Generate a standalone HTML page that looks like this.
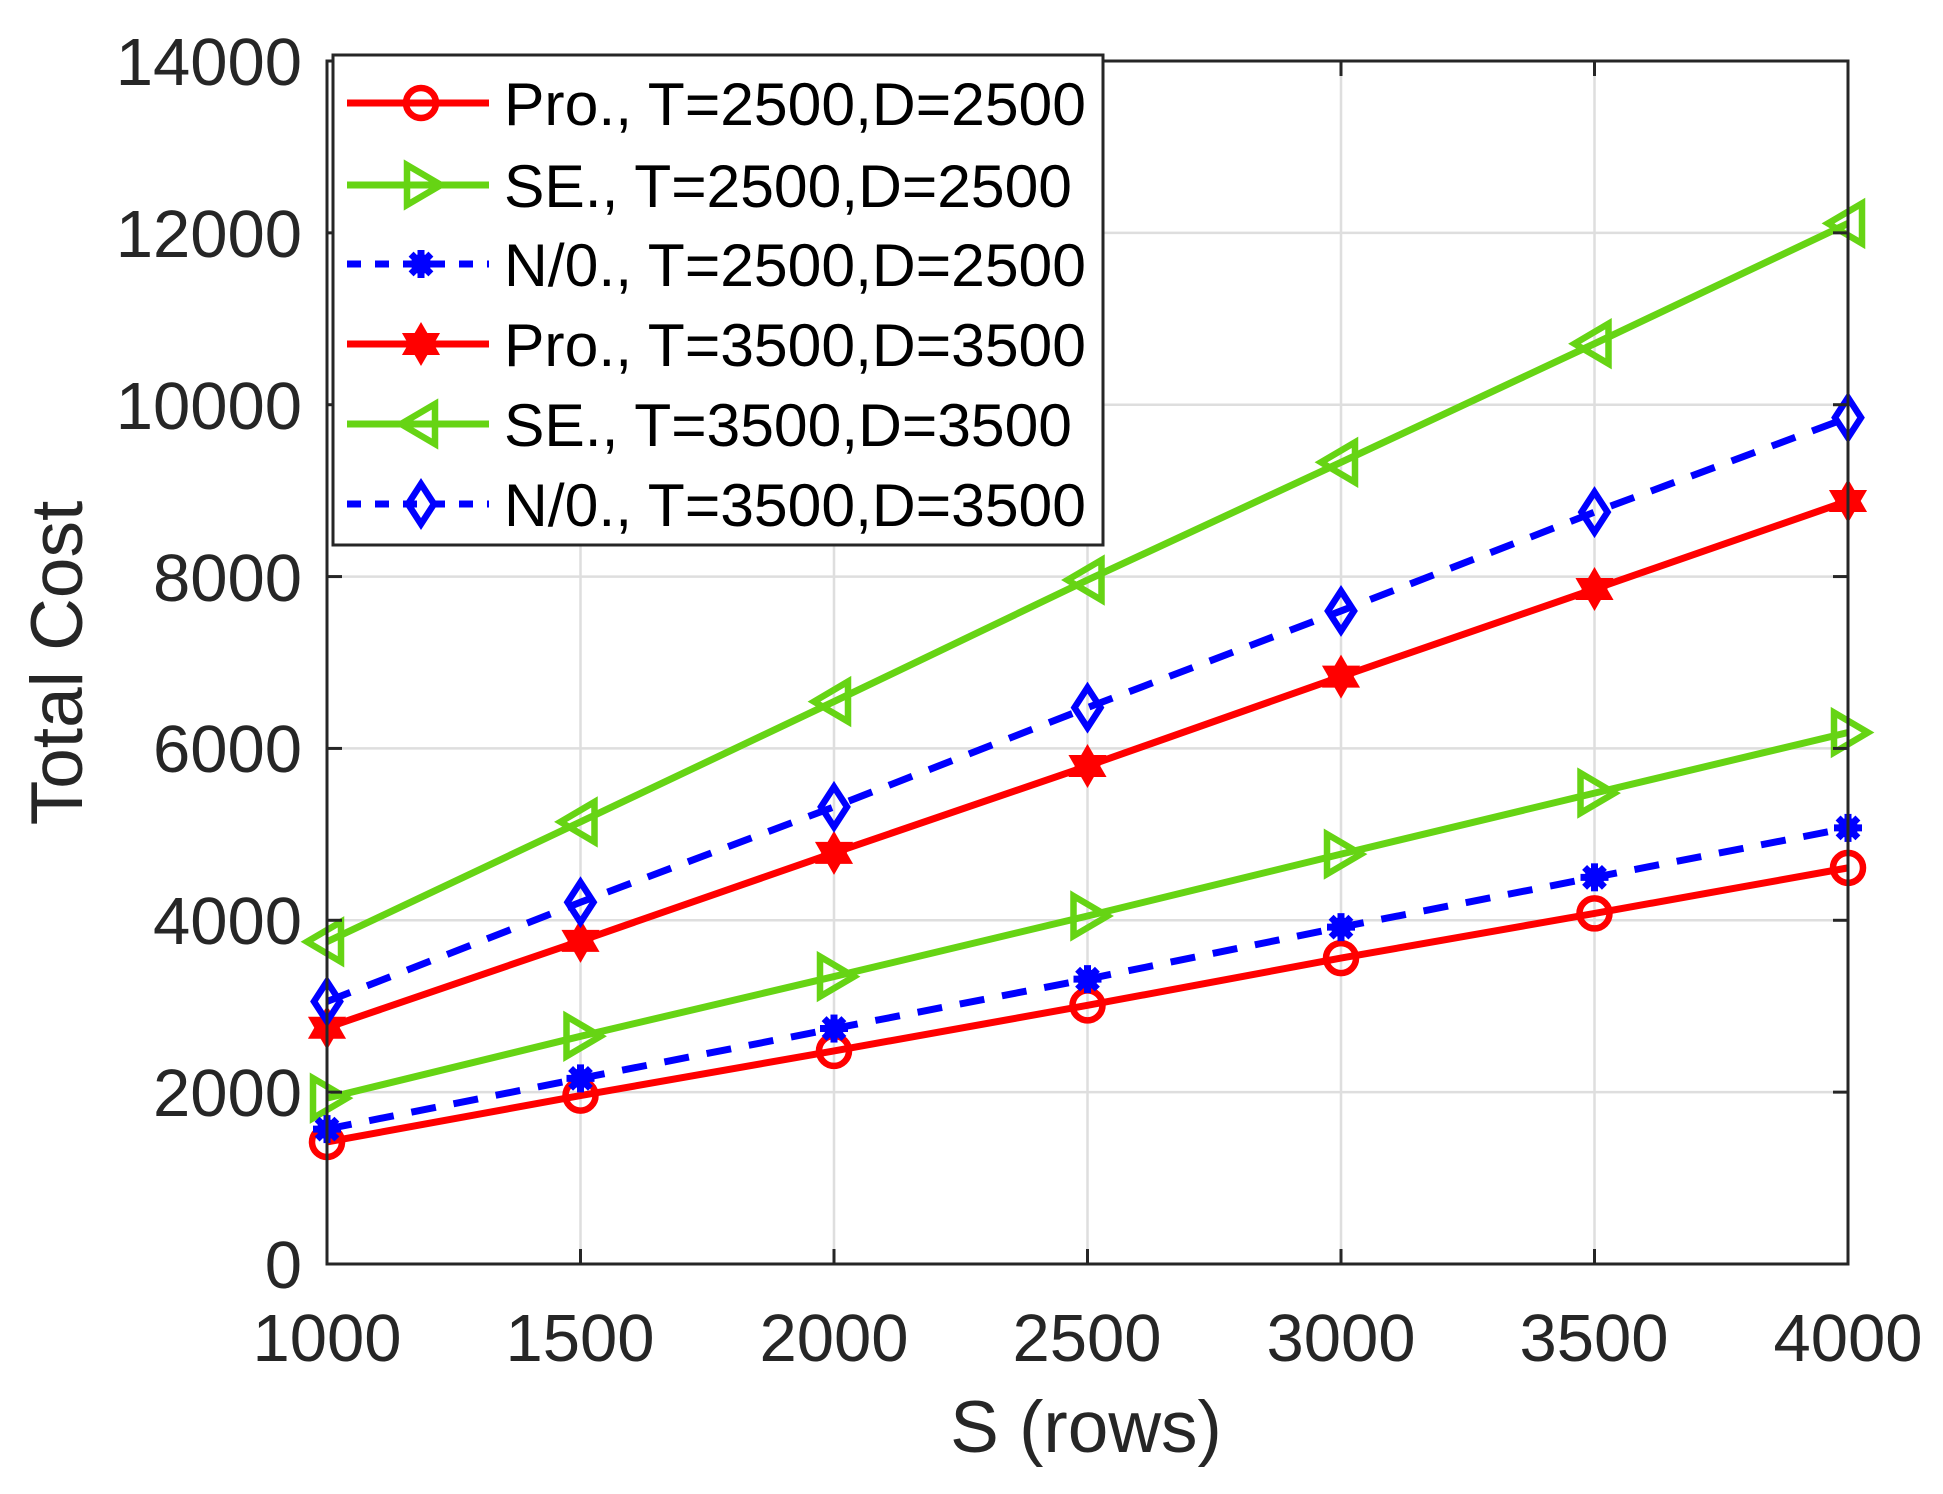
<!DOCTYPE html>
<html><head><meta charset="utf-8"><style>
html,body{margin:0;padding:0;background:#fff;}
svg{display:block;font-family:"Liberation Sans",Arial,sans-serif;}
</style></head><body>
<svg id="s" width="1943" height="1494" viewBox="0 0 1943 1494" xmlns="http://www.w3.org/2000/svg">
<rect width="1943" height="1494" fill="#fff"/>
<g id="grid" stroke="#dedede" stroke-width="2.5"></g>
<g id="series"></g>
<rect x="327" y="61" width="1521" height="1203" fill="none" stroke="#262626" stroke-width="3"/>
<g id="ticks" stroke="#262626" stroke-width="3"></g>
<g font-size="67" fill="#262626" text-anchor="end">
<text x="302" y="1288">0</text>
<text x="302" y="1116">2000</text>
<text x="302" y="944">4000</text>
<text x="302" y="772">6000</text>
<text x="302" y="601">8000</text>
<text x="302" y="429">10000</text>
<text x="302" y="257">12000</text>
<text x="302" y="85">14000</text>
</g>
<g font-size="67" fill="#262626" text-anchor="middle">
<text x="327" y="1361">1000</text>
<text x="580" y="1361">1500</text>
<text x="834" y="1361">2000</text>
<text x="1087" y="1361">2500</text>
<text x="1341" y="1361">3000</text>
<text x="1594" y="1361">3500</text>
<text x="1848" y="1361">4000</text>
</g>
<text x="1086" y="1452" font-size="73" fill="#262626" text-anchor="middle">S (rows)</text>
<text transform="translate(82,663) rotate(-90)" font-size="73" fill="#262626" text-anchor="middle">Total Cost</text>
<rect x="333" y="55" width="770" height="490" fill="#fff" stroke="#262626" stroke-width="3"/>
<g id="leg"></g>
<g font-size="60" fill="#000">
<text x="504" y="125" textLength="582" lengthAdjust="spacingAndGlyphs">Pro., T=2500,D=2500</text>
<text x="504" y="207" textLength="568" lengthAdjust="spacingAndGlyphs">SE., T=2500,D=2500</text>
<text x="504" y="286" textLength="582" lengthAdjust="spacingAndGlyphs">N/0., T=2500,D=2500</text>
<text x="504" y="366" textLength="582" lengthAdjust="spacingAndGlyphs">Pro., T=3500,D=3500</text>
<text x="504" y="446" textLength="568" lengthAdjust="spacingAndGlyphs">SE., T=3500,D=3500</text>
<text x="504" y="526" textLength="582" lengthAdjust="spacingAndGlyphs">N/0., T=3500,D=3500</text>
</g>
</svg>
<script>
var NS="http://www.w3.org/2000/svg";
function el(p,t,a){var e=document.createElementNS(NS,t);for(var k in a)e.setAttribute(k,a[k]);p.appendChild(e);return e;}
function X(v){return 327+(v-1000)*1521/3000;}
function Y(v){return 1264-v*1203/14000;}
var g=document.getElementById('grid'),tk=document.getElementById('ticks');
for(var i=1;i<7;i++){var x=X(1000+500*i);el(g,'line',{x1:x,x2:x,y1:61,y2:1264});el(tk,'line',{x1:x,x2:x,y1:1264,y2:1249});el(tk,'line',{x1:x,x2:x,y1:61,y2:76});}
for(var i=1;i<7;i++){var y=Y(2000*i);el(g,'line',{x1:327,x2:1848,y1:y,y2:y});el(tk,'line',{x1:327,x2:342,y1:y,y2:y});el(tk,'line',{x1:1848,x2:1833,y1:y,y2:y});}
var R='#ff0000',G='#66d414',B='#0000ff';
var S=[
{c:R,m:'o',d:0,v:[1420,1960,2480,3010,3560,4080,4610]},
{c:G,m:'>',d:0,v:[1930,2650,3345,4050,4770,5480,6185]},
{c:B,m:'*',d:1,v:[1570,2160,2740,3315,3920,4500,5075]},
{c:R,m:'h',d:0,v:[2750,3760,4785,5795,6835,7855,8880]},
{c:G,m:'<',d:0,v:[3750,5145,6545,7960,9330,10710,12110]},
{c:B,m:'d',d:1,v:[3055,4210,5320,6475,7600,8750,9850]}];
function marker(p,m,x,y,c){
 var sw=6.5;
 if(m=='o')el(p,'circle',{cx:x,cy:y,r:15,fill:'none',stroke:c,'stroke-width':sw});
 else if(m=='>')el(p,'polygon',{points:(x-14)+','+(y-20)+' '+(x+20)+','+y+' '+(x-14)+','+(y+20),fill:'none',stroke:c,'stroke-width':sw});
 else if(m=='<')el(p,'polygon',{points:(x+14)+','+(y-20)+' '+(x-20)+','+y+' '+(x+14)+','+(y+20),fill:'none',stroke:c,'stroke-width':sw});
 else if(m=='d')el(p,'polygon',{points:x+','+(y-20)+' '+(x+13)+','+y+' '+x+','+(y+20)+' '+(x-13)+','+y,fill:'none',stroke:c,'stroke-width':sw});
 else if(m=='*'){for(var a=0;a<4;a++){var t=a*Math.PI/4;el(p,'line',{x1:x-14*Math.cos(t),y1:y-14*Math.sin(t),x2:x+14*Math.cos(t),y2:y+14*Math.sin(t),stroke:c,'stroke-width':7});}el(p,'circle',{cx:x,cy:y,r:10,fill:c});}
 else if(m=='h'){var r=22,pts1=[],pts2=[];for(var a=0;a<3;a++){var t1=-Math.PI/2+a*2*Math.PI/3,t2=Math.PI/2+a*2*Math.PI/3;pts1.push((x+r*Math.cos(t1))+','+(y+r*Math.sin(t1)));pts2.push((x+r*Math.cos(t2))+','+(y+r*Math.sin(t2)));}
  el(p,'polygon',{points:pts1.join(' '),fill:c});el(p,'polygon',{points:pts2.join(' '),fill:c});}
}
var sg=document.getElementById('series');
S.forEach(function(s){var pts=s.v.map(function(v,i){return X(1000+500*i)+','+Y(v);}).join(' ');
 var a={points:pts,fill:'none',stroke:s.c,'stroke-width':7};if(s.d)a['stroke-dasharray']='25,18';el(sg,'polyline',a);});
S.forEach(function(s){s.v.forEach(function(v,i){marker(sg,s.m,X(1000+500*i),Y(v),s.c);});});
var lg=document.getElementById('leg');var ly=[103,185,264,344,424,504];
S.forEach(function(s,i){var a={x1:347,x2:489,y1:ly[i],y2:ly[i],stroke:s.c,'stroke-width':7};if(s.d)a['stroke-dasharray']='14,14';el(lg,'line',a);marker(lg,s.m,421,ly[i],s.c);});
</script>
</body></html>
